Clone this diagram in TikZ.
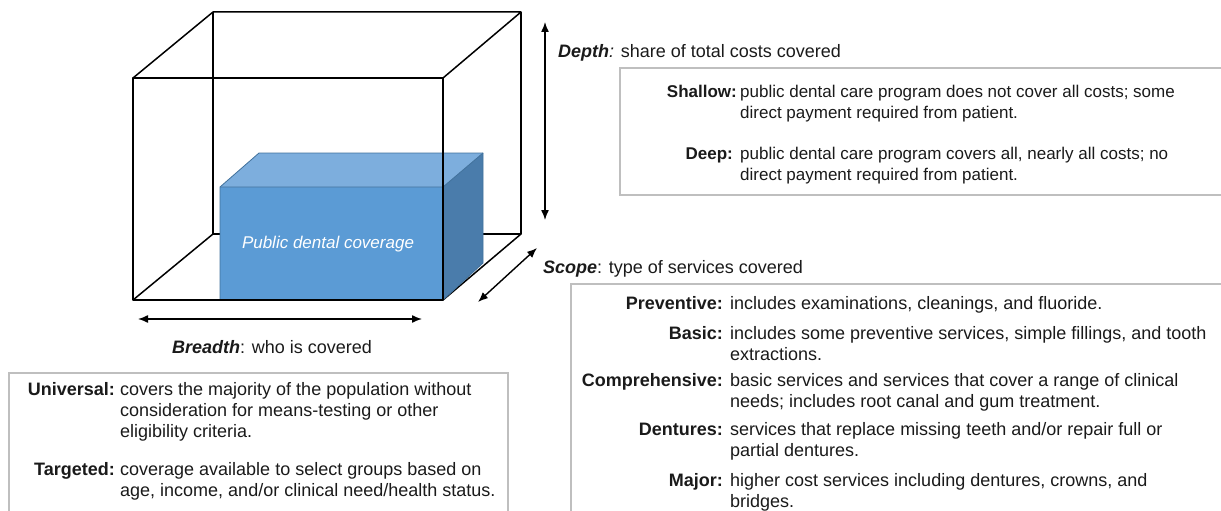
\documentclass[tikz,border=0pt]{standalone}
\usepackage{fontspec}
\setmainfont{Liberation Sans}
\usetikzlibrary{arrows.meta}
\definecolor{coverfront}{HTML}{5B9BD5}
\definecolor{covertop}{HTML}{7DAEDD}
\definecolor{coverside}{HTML}{4A7CAB}
\definecolor{coveredge}{HTML}{41719C}
\definecolor{boxgray}{HTML}{BFBFBF}
\definecolor{ink}{HTML}{1A1A1A}

\begin{document}
\begin{tikzpicture}[x=1pt, y=-1pt, >={Latex[length=10pt,width=8pt]},
  frame/.style={line width=1.5pt, line join=round},
  dimarrow/.style={<->, line width=1.4pt},
  infobox/.style={draw=boxgray, line width=1.5pt},
  heading/.style={font=\fontsize{18}{22}\selectfont, text=ink, inner sep=0pt},
  term/.style={font=\fontsize{#1}{21}\selectfont\bfseries, text=ink, inner sep=0pt, anchor=base east},
  term/.default=18,
  explain/.style={font=\fontsize{#1}{21}\selectfont, text=ink, inner sep=0pt, anchor=base west, align=left},
  explain/.default=18]

  \clip (0,0) rectangle (1221,511);

  % Outer cube
  \coordinate (fbl) at (133,300);
  \coordinate (fbr) at (443,300);
  \coordinate (ftr) at (443,78);
  \coordinate (ftl) at (133,78);
  \coordinate (bbl) at (213,234);
  \coordinate (bbr) at (521,234);
  \coordinate (btr) at (521,12);
  \coordinate (btl) at (213,12);

  % hidden part of the cube, behind the coverage block
  \draw[frame] (btl) -- (bbl) -- (bbr) -- (btr);
  \draw[frame] (bbl) -- (fbl);
  \draw[frame] (bbr) -- (fbr);

  % Coverage block
  \coordinate (cfl) at (220,187);
  \coordinate (cfr) at (443,187);
  \coordinate (cbl) at (259,153);
  \coordinate (cbr) at (483,153);
  \coordinate (cbd) at (483,263);
  \coordinate (cdr) at (443,300);
  \coordinate (cdl) at (220,300);
  \fill[coverfront] (cfl) rectangle (cdr);
  \fill[covertop] (cfl) -- (cbl) -- (cbr) -- (cfr) -- cycle;
  \fill[coverside] (cfr) -- (cbr) -- (cbd) -- (cdr) -- cycle;
  \draw[coveredge, line width=0.8pt, line join=round] (cdl) -- (cfl) -- (cbl) -- (cbr) -- (cbd) -- (cdr);
  \draw[coveredge, line width=0.8pt] (cfl) -- (cfr) -- (cbr);
  \node[font=\fontsize{17}{20}\selectfont\itshape, text=white] (cover) at (328,244) {Public dental coverage};

  % front of the cube
  \draw[frame] (fbl) -- (fbr) -- (ftr) -- (ftl) -- cycle;
  \draw[frame] (ftl) -- (btl) -- (btr) -- (ftr);

  % Dimension arrows
  \coordinate (depthtop) at (545,22);
  \coordinate (depthbot) at (545,220);
  \coordinate (scopenear) at (478,302);
  \coordinate (scopefar) at (537,248);
  \coordinate (breadthl) at (138,319);
  \coordinate (breadthr) at (422,319);
  \draw[dimarrow] (depthtop) -- (depthbot);
  \draw[dimarrow] (scopenear) -- (scopefar);
  \draw[dimarrow] (breadthl) -- (breadthr);

  % Depth
  % (multi-line texts sit on the baseline of their last line)
  \node[heading, anchor=base west] (depth) at (558,58) {\textbf{\textit{Depth}}\textit{:} share of total costs covered};
  \draw[infobox] (620,68) rectangle (1240,195);
  \node[term=17] (shallow) at (737,97) {Shallow:};
  \node[explain=17] (shallowtxt) at (740,118) {public dental care program does not cover all costs; some\\direct payment required from patient.};
  \node[term=17] (deep) at (733,159) {Deep:};
  \node[explain=17] (deeptxt) at (740,180) {public dental care program covers all, nearly all costs; no\\direct payment required from patient.};

  % Scope
  \node[heading, anchor=base west] (scope) at (543,273) {\textbf{\textit{Scope}}: type of services covered};
  \draw[infobox] (571,284) rectangle (1240,530);
  \node[term] (preventive) at (723,309) {Preventive:};
  \node[explain] (preventivetxt) at (730,309) {includes examinations, cleanings, and fluoride.};
  \node[term] (basic) at (723,339) {Basic:};
  \node[explain] (basictxt) at (730,360) {includes some preventive services, simple fillings, and tooth\\extractions.};
  \node[term] (comprehensive) at (723,386) {Comprehensive:};
  \node[explain] (comprehensivetxt) at (730,407) {basic services and services that cover a range of clinical\\needs; includes root canal and gum treatment.};
  \node[term] (dentures) at (723,435) {Dentures:};
  \node[explain] (denturestxt) at (730,456) {services that replace missing teeth and/or repair full or\\partial dentures.};
  \node[term] (major) at (723,486) {Major:};
  \node[explain] (majortxt) at (730,507) {higher cost services including dentures, crowns, and\\bridges.};

  % Breadth
  \node[heading, anchor=base] (breadth) at (272,353) {\textbf{\textit{Breadth}}: who is covered};
  \draw[infobox] (9,373) rectangle (508,530);
  \node[term] (universal) at (115,395) {Universal:};
  \node[explain] (universaltxt) at (120,437) {covers the majority of the population without\\consideration for means-testing or other\\eligibility criteria.};
  \node[term] (targeted) at (115,475) {Targeted:};
  \node[explain] (targetedtxt) at (120,496) {coverage available to select groups based on\\age, income, and/or clinical need/health status.};
\end{tikzpicture}
\end{document}
